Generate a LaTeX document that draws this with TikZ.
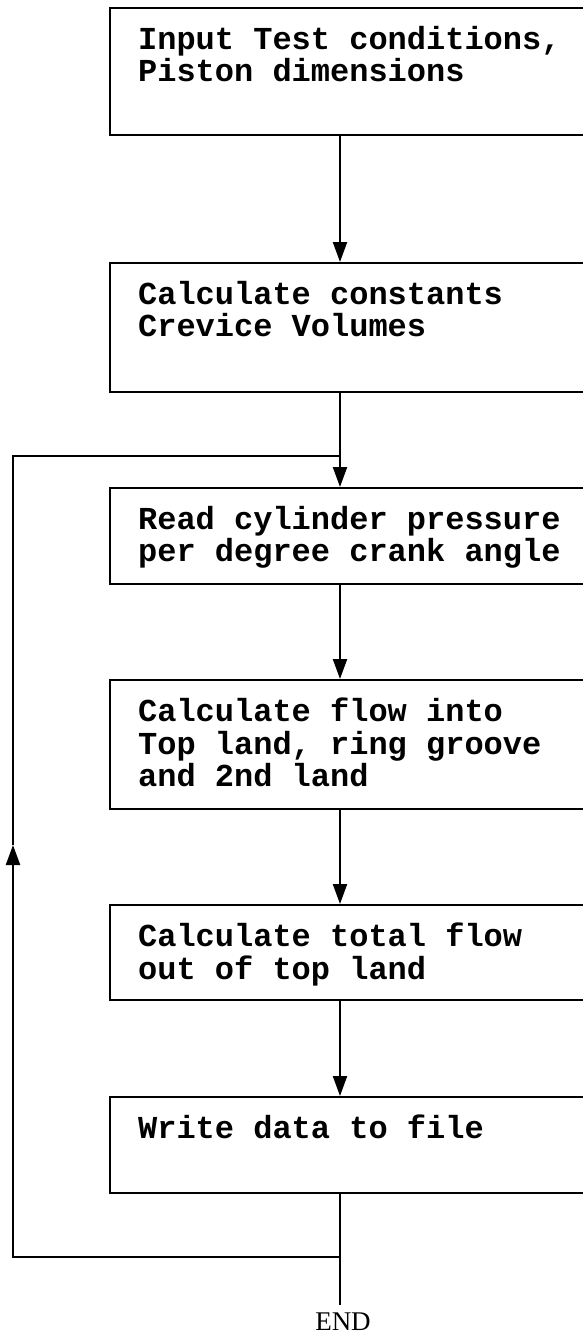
\documentclass[tikz,border=0pt]{standalone}
\usepackage{fontspec}
\setmainfont{Liberation Serif}
\setmonofont{Liberation Mono}
\usetikzlibrary{positioning,arrows.meta}

\tikzset{
    stepbox/.style={draw, rectangle, anchor=north west, minimum width=490pt, inner sep=0pt},
    steptext/.style={anchor=north west, align=left, inner sep=0pt, font=\ttfamily\bfseries\fontsize{32}{32.5}\selectfont},
}

\begin{document}
\begin{tikzpicture}[x=1pt, y=-1pt, line width=2.2pt, >={Triangle[length=20pt,width=14pt]}]
    \useasboundingbox (0,0) rectangle (583,1334);
    \coordinate (col) at (340,0);

    \node[stepbox, minimum height=127pt] (input) at (109,7) {};
    \node[steptext] (inputtxt) at ([shift={(28,18)}]input.north west) {Input Test conditions,\\Piston dimensions};

    \node[stepbox, minimum height=129pt] (consts) at (109,262) {};
    \node[steptext] (conststxt) at ([shift={(28,18)}]consts.north west) {Calculate constants\\Crevice Volumes};

    \node[stepbox, minimum height=96pt] (readp) at (109,487) {};
    \node[steptext] (readptxt) at ([shift={(28,18)}]readp.north west) {Read cylinder pressure\\per degree crank angle};

    \node[stepbox, minimum height=129pt] (flowin) at (109,679) {};
    \node[steptext] (flowintxt) at ([shift={(28,18)}]flowin.north west) {Calculate flow into\\Top land, ring groove\\and 2nd land};

    \node[stepbox, minimum height=95pt] (flowout) at (109,904) {};
    \node[steptext] (flowouttxt) at ([shift={(28,18)}]flowout.north west) {Calculate total flow\\out of top land};

    \node[stepbox, minimum height=96pt] (write) at (109,1096) {};
    \node[steptext] (writetxt) at ([shift={(28,18)}]write.north west) {Write data to file};

    \node[font=\fontsize{27}{27}\selectfont, inner xsep=0pt, inner ysep=7pt, anchor=north] (finish) at (343,1305) {END};

    % loop points
    \coordinate (loopin) at (340,456);
    \coordinate (loopout) at (340,1257);
    \coordinate (loopup) at (13,845);

    \draw[->] (input.south -| col) -- (consts.north -| col);
    \draw[->] (consts.south -| col) -- (readp.north -| col);
    \draw[->] (readp.south -| col) -- (flowin.north -| col);
    \draw[->] (flowin.south -| col) -- (flowout.north -| col);
    \draw[->] (flowout.south -| col) -- (write.north -| col);
    \draw (write.south -| col) -- (finish.north -| col);
    \draw[->] (loopout) -| (loopup);
    \draw (loopup) |- (loopin);
\end{tikzpicture}
\end{document}
